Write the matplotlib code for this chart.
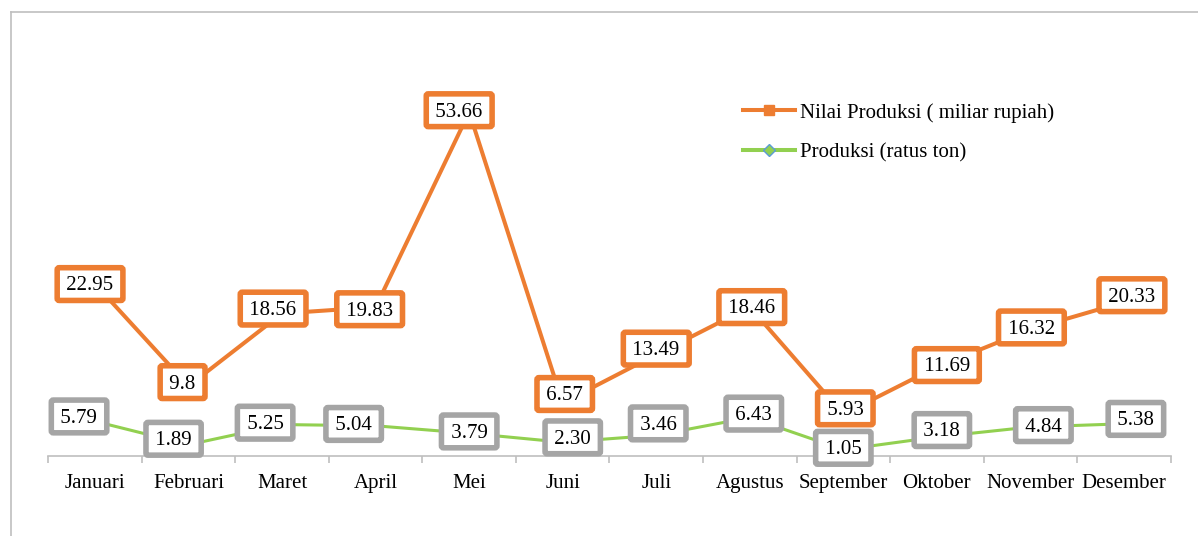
import numpy as np
import matplotlib
matplotlib.use("Agg")
from matplotlib import pyplot as plt
from matplotlib.lines import Line2D
from matplotlib.patches import BoxStyle

bulan = ["Januari", "Februari", "Maret", "April", "Mei", "Juni", "Juli",
         "Agustus", "September", "Oktober", "November", "Desember"]
nilai_produksi = [22.95, 9.8, 18.56, 19.83, 53.66, 6.57, 13.49, 18.46, 5.93, 11.69, 16.32, 20.33]
produksi = [5.79, 1.89, 5.25, 5.04, 3.79, 2.30, 3.46, 6.43, 1.05, 3.18, 4.84, 5.38]
label_nilai = ["22.95", "9.8", "18.56", "19.83", "53.66", "6.57", "13.49", "18.46", "5.93", "11.69", "16.32", "20.33"]
label_prod = ["5.79", "1.89", "5.25", "5.04", "3.79", "2.30", "3.46", "6.43", "1.05", "3.18", "4.84", "5.38"]

# geser label (pixel, x ke kanan, y ke atas) spt posisi label di Excel
geser_nilai = [(-5, -2), (-6, 2), (-9, 3), (-6, -4), (-10, 0), (2, 7),
               (0, 4), (2, -2), (2, 4), (10, 0), (1, 0), (8, 5)]
geser_prod = [(-16, 3), (-15, 4), (-17, 0), (-22, 0), (0, 0), (10, 3),
              (2, 10), (4, 2), (0, 0), (5, 5), (13, 0), (12, 3)]

oranye = "#ED7D31"
hijau = "#92D050"
abu = "#A5A5A5"

plt.rcParams['font.family'] = ['Liberation Serif', 'DejaVu Serif']
FS = 15

_round = BoxStyle.Round(pad=0, rounding_size=0.1)


def kotak_label(x0, y0, width, height, mutation_size):
    # padding kiri/kanan lebih kecil dari atas/bawah
    px = 0.2 * mutation_size
    pt = 0.42 * mutation_size
    pb = 0.24 * mutation_size
    return _round(x0 - px, y0 - pb, width + 2 * px, height + pt + pb, mutation_size)


fig = plt.figure(figsize=(11.98, 5.36), dpi=100)
ax = fig.add_axes([0.0403, 0.1493, 0.9369, 0.7817])

x = np.arange(len(bulan))
# line bertumpuk (stacked) seperti grafik Excel
atas = np.array(produksi) + np.array(nilai_produksi)

ax.plot(x, produksi, color=hijau, lw=2.2, zorder=2)
ax.plot(x, atas, color=oranye, lw=2.9, zorder=2)

for i in range(len(bulan)):
    ax.annotate(" " + label_prod[i] + " ", (x[i], produksi[i]), xytext=geser_prod[i],
                textcoords="offset pixels", ha="center", va="center", fontsize=FS, zorder=5,
                bbox=dict(boxstyle=kotak_label, fc="white", lw=4, ec=abu))
    ax.annotate(" " + label_nilai[i] + " ", (x[i], atas[i]), xytext=geser_nilai[i],
                textcoords="offset pixels", ha="center", va="center", fontsize=FS, zorder=5,
                bbox=dict(boxstyle=kotak_label, fc="white", lw=4, ec=oranye))

ax.set_xlim(-0.5, len(bulan) - 0.5)
ax.set_ylim(0, 70)
ax.set_yticks([])
for s in ["top", "right", "left"]:
    ax.spines[s].set_visible(False)
ax.spines["bottom"].set_color("#BFBFBF")
ax.spines["bottom"].set_linewidth(1.2)

ax.set_xticks(np.arange(-0.5, len(bulan), 1.0))
ax.set_xticklabels([])
ax.tick_params(axis="x", which="major", length=5, color="#BFBFBF", width=1.2)
ax.set_xticks(x, minor=True)
ax.set_xticklabels(bulan, minor=True, fontsize=FS)
ax.tick_params(axis="x", which="minor", length=0, pad=13)

h1 = Line2D([], [], color=oranye, lw=2.9, marker="s", markersize=7.5,
            markerfacecolor=oranye, markeredgecolor=oranye)
h2 = Line2D([], [], color=hijau, lw=2.9, marker="D", markersize=6,
            markerfacecolor=hijau, markeredgecolor="#5B9BD5")
fig.legend([h1, h2], ["Nilai Produksi ( miliar rupiah)", "Produksi (ratus ton)"],
           loc="upper left", bbox_to_anchor=(0.6045, 0.843), frameon=False, fontsize=FS,
           handlelength=2.5, handletextpad=0.25, labelspacing=0.95)

# bingkai abu-abu
fig.add_artist(Line2D([11 / 1198, 11 / 1198], [0, 1 - 12 / 536], transform=fig.transFigure,
                      color="#BFBFBF", lw=1.2))
fig.add_artist(Line2D([11 / 1198, 1], [1 - 12 / 536, 1 - 12 / 536], transform=fig.transFigure,
                      color="#BFBFBF", lw=1.2))

fig.savefig("out.png", dpi=100)
